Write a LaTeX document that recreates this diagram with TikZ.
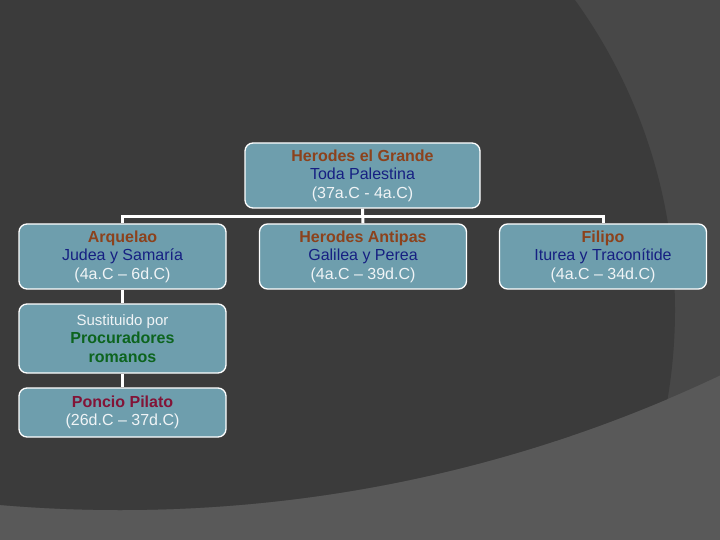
\documentclass[tikz,border=0pt]{standalone}
\usepackage{fontspec}
\setmainfont{Liberation Sans}
\definecolor{bgdark}{RGB}{59,59,59}
\definecolor{bgmid}{RGB}{72,72,72}
\definecolor{bglight}{RGB}{89,89,89}
\definecolor{boxfill}{RGB}{110,158,173}
\definecolor{tbrown}{RGB}{140,66,28}
\definecolor{tblue}{RGB}{22,32,130}
\definecolor{tgreen}{RGB}{12,100,30}
\definecolor{tred}{RGB}{130,20,55}
\definecolor{twhite}{RGB}{240,244,246}
\tikzset{
  box/.style={draw=white, line width=1.3pt, fill=boxfill, rounded corners=8pt,
    minimum width=207pt, align=center, inner sep=0pt,
    font=\fontsize{16pt}{18.6pt}\selectfont},
  link/.style={draw=white, line width=3pt},
}
\begin{document}
\begin{tikzpicture}[x=1pt,y=-1pt]
\useasboundingbox (0,0) rectangle (720,540);
% background
\fill[bglight] (0,0) rectangle (720,540);
\begin{scope}
  \clip (120,-891) circle (1401);
  \fill[bgmid] (0,0) rectangle (720,540);
  \fill[bgdark] (145,310) circle (530);
\end{scope}
% nodes
\node[box, minimum width=235pt, minimum height=65pt] (top) at (362.5,175.5)
  {\textbf{\color{tbrown}Herodes el Grande}\\\color{tblue}Toda Palestina\\\color{twhite}(37a.C - 4a.C)};
\node[box, minimum height=65pt] (arq) at (122.5,256.5)
  {\textbf{\color{tbrown}Arquelao}\\\color{tblue}Judea y Samaría\\\color{twhite}(4a.C – 6d.C)};
\node[box, minimum height=65pt] (ant) at (363,256.5)
  {\textbf{\color{tbrown}Herodes Antipas}\\\color{tblue}Galilea y Perea\\\color{twhite}(4a.C – 39d.C)};
\node[box, minimum height=65pt] (fil) at (603,256.5)
  {\textbf{\color{tbrown}Filipo}\\\color{tblue}Iturea y Traconítide\\\color{twhite}(4a.C – 34d.C)};
\node[box, minimum height=69pt] (sus) at (122.5,338.5)
  {{\color{twhite}\fontsize{15pt}{18.6pt}\selectfont Sustituido por}\\\textbf{\color{tgreen}Procuradores}\\\textbf{\color{tgreen}romanos}};
\node[box, minimum height=49pt] (pon) at (122.5,412.5)
  {\textbf{\color{tred}Poncio Pilato}\\\color{twhite}(26d.C – 37d.C)};
% connectors
\draw[link] (top.south) -- ++(0,8) -| (arq.north);
\draw[link] (top.south) -- (ant.north);
\draw[link] (top.south) -- ++(0,8) -| (fil.north);
\draw[link] (arq.south) -- (sus.north);
\draw[link] (sus.south) -- (pon.north);
\end{tikzpicture}
\end{document}
